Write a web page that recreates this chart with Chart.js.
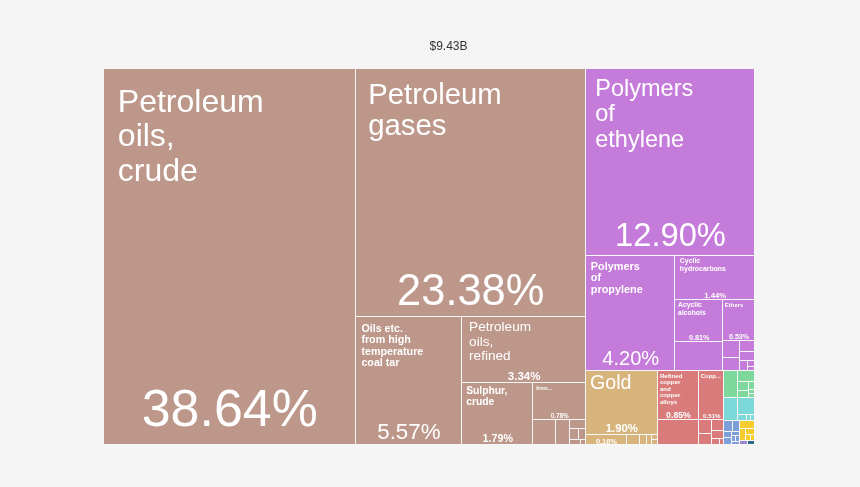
<!DOCTYPE html>
<html>
<head>
<meta charset="utf-8">
<script src="https://cdn.jsdelivr.net/npm/chart.js@4.4.0/dist/chart.umd.min.js"></script>
<style>
  html, body { margin: 0; padding: 0; background: #f5f5f5; }
  #wrap { width: 860px; height: 487px; position: relative; }
</style>
</head>
<body>
<div id="wrap"><canvas id="treeCanvas"></canvas></div>
<script>
const totalLabel = "$9.43B";

// one entry per product group (colour = group)
const groupColors = ["#bc978a", "#c47bd9", "#d8b47d", "#d97b7b", "#7dd89b", "#7cd8d9", "#7d9fda", "#f5cd2f", "#9b87d8", "#2e6b8b"];

const mineralNames = ["Petroleum oils, crude", "Petroleum gases", "Oils etc. from high temperature coal tar", "Petroleum oils, refined", "Sulphur, crude", "Iron ores and concentrates", "Bitumen", "Cement", "Salt", "Limestone", "Gypsum", "Coal", "Clays"];
const mineralValues = [38.64, 23.38, 5.57, 3.34, 1.79, 0.78, 0.23, 0.15, 0.06, 0.04, 0.03, 0.02, 0.01];

const chemNames = ["Polymers of ethylene", "Polymers of propylene", "Cyclic hydrocarbons", "Acyclic alcohols", "Acyclic hydrocarbons", "Ethers", "Fertilizers", "Polyacetals", "Ammonia", "Carboxylic acids", "Plastic pipes", "Paints", "Soap"];
const chemValues = [12.90, 4.20, 1.44, 0.81, 0.56, 0.53, 0.12, 0.09, 0.07, 0.05, 0.03, 0.02, 0.01];

const preciousNames = ["Gold", "Jewellery", "Silver", "Platinum", "Pearls", "Diamonds", "Coin"];
const preciousValues = [1.90, 0.16, 0.05, 0.03, 0.02, 0.01, 0.01];

const metalNames = ["Refined copper and copper alloys", "Copper ores and concentrates", "Raw aluminium", "Iron structures", "Zinc", "Lead", "Copper wire", "Aluminium plates", "Scrap iron"];
const metalValues = [0.85, 0.51, 0.42, 0.07, 0.06, 0.05, 0.04, 0.02, 0.01];

const vegetableNames = ["Dates", "Wheat", "Fruits", "Vegetables", "Rice", "Spices", "Coffee"];
const vegetableValues = [0.15, 0.08, 0.04, 0.03, 0.02, 0.01, 0.01];

const machineNames = ["Generators", "Pumps", "Valves", "Engines", "Computers"];
const machineValues = [0.13, 0.12, 0.02, 0.01, 0.01];

const transportNames = ["Cars", "Trucks", "Vehicle parts", "Ships", "Aircraft", "Trailers", "Buses", "Tractors"];
const transportValues = [0.04, 0.03, 0.02, 0.02, 0.015, 0.01, 0.01, 0.01];

const foodNames = ["Animal feed", "Sugar", "Juices", "Tobacco", "Sauces"];
const foodValues = [0.05, 0.03, 0.02, 0.01, 0.01];

const instrumentNames = ["Medical instruments"];
const instrumentValues = [0.015];

const textileNames = ["Carpets"];
const textileValues = [0.012];

const groupNames = [mineralNames, chemNames, preciousNames, metalNames, vegetableNames, machineNames, transportNames, foodNames, instrumentNames, textileNames];
const groupValues = [mineralValues, chemValues, preciousValues, metalValues, vegetableValues, machineValues, transportValues, foodValues, instrumentValues, textileValues];

const FAMILY = '"Liberation Sans", Arial, Helvetica, sans-serif';

// d3-style squarified layout (ratio 1), nodes sorted by value
function squarify(nodes, x0, y0, x1, y1) {
  let value = nodes.reduce((s, d) => s + d.value, 0);
  let i0 = 0, i1 = 0;
  const n = nodes.length;
  while (i0 < n) {
    const dx = x1 - x0, dy = y1 - y0;
    let sumValue = nodes[i1++].value;
    let minValue = sumValue, maxValue = sumValue;
    const alpha = Math.max(dy / dx, dx / dy) / value;
    let beta = sumValue * sumValue * alpha;
    let minRatio = Math.max(maxValue / beta, beta / minValue);
    for (; i1 < n; ++i1) {
      const v = nodes[i1].value;
      sumValue += v;
      if (v < minValue) minValue = v;
      if (v > maxValue) maxValue = v;
      beta = sumValue * sumValue * alpha;
      const newRatio = Math.max(maxValue / beta, beta / minValue);
      if (newRatio > minRatio) { sumValue -= v; break; }
      minRatio = newRatio;
    }
    const row = nodes.slice(i0, i1);
    if (dx < dy) {
      const yb = i1 < n ? y0 + dy * sumValue / value : y1;
      let x = x0;
      row.forEach(d => {
        const w = (x1 - x0) * d.value / sumValue;
        d.x0 = x; d.x1 = x + w; d.y0 = y0; d.y1 = yb; x += w;
      });
      y0 = yb;
    } else {
      const xb = i1 < n ? x0 + dx * sumValue / value : x1;
      let y = y0;
      row.forEach(d => {
        const h = (y1 - y0) * d.value / sumValue;
        d.x0 = x0; d.x1 = xb; d.y0 = y; d.y1 = y + h; y += h;
      });
      x0 = xb;
    }
    value -= sumValue;
    i0 = i1;
  }
}

function buildLayout(W, H) {
  const groups = groupValues.map((vals, g) => {
    const children = vals.map((v, i) => ({ name: groupNames[g][i], value: v, color: groupColors[g] }))
      .sort((a, b) => b.value - a.value);
    return { value: vals.reduce((s, v) => s + v, 0), children };
  }).sort((a, b) => b.value - a.value);
  squarify(groups, 0, 0, W, H);
  const leaves = [];
  groups.forEach(g => {
    squarify(g.children, g.x0, g.y0, g.x1, g.y1);
    g.children.forEach(c => leaves.push(c));
  });
  return leaves;
}

function setFont(ctx, size, bold) {
  ctx.font = (bold ? "bold " : "") + size + "px " + FAMILY;
}
function measure(ctx, text, size, bold) {
  setFont(ctx, size, bold);
  return ctx.measureText(text).width;
}

const LINE = 1.07;

function layoutName(ctx, name, w, h, room) {
  const words = name.split(" ");
  let bold = false;
  let f = Math.min(0.58 * w / (Math.max(...words.map(t => measure(ctx, t, 100, false))) / 100), 40);
  if (f < 13) {
    bold = true;
    f = 0.58 * w / (Math.max(...words.map(t => measure(ctx, t, 100, true))) / 100);
  }
  if (f < 5.5) {
    f = 6;
    let t = words[0];
    const maxW = w * 0.89;
    while (t.length > 1 && measure(ctx, t + "...", f, true) > maxW) t = t.slice(0, -1);
    return { f, bold: true, lines: [t + "..."] };
  }
  let lines;
  for (let k = 0; k < 20; k++) {
    const limit = Math.max(...words.map(t => measure(ctx, t, f, bold)));
    lines = [];
    let cur = words[0];
    for (let i = 1; i < words.length; i++) {
      const test = cur + " " + words[i];
      if (measure(ctx, test, f, bold) < limit - 0.5) cur = test;
      else { lines.push(cur); cur = words[i]; }
    }
    lines.push(cur);
    if (lines.length * f * LINE <= room || f <= 6) break;
    f *= 0.93;
  }
  return { f, bold, lines };
}

const treemapPlugin = {
  id: "treemapCells",
  afterDraw(chart) {
    const ctx = chart.ctx;
    const xs = chart.scales.x, ys = chart.scales.y;
    const W = xs.getPixelForValue(100) - xs.getPixelForValue(0);
    const H = ys.getPixelForValue(100) - ys.getPixelForValue(0);
    const leaves = buildLayout(W, H);
    ctx.save();
    // gaps between cells
    ctx.fillStyle = "#f7f7f7";
    ctx.fillRect(xs.getPixelForValue(0), ys.getPixelForValue(0), W, H);
    leaves.forEach(d => {
      const px0 = Math.round(xs.getPixelForValue(d.x0 / W * 100));
      const px1 = Math.round(xs.getPixelForValue(d.x1 / W * 100));
      const py0 = Math.round(ys.getPixelForValue(d.y0 / H * 100));
      const py1 = Math.round(ys.getPixelForValue(d.y1 / H * 100));
      ctx.fillStyle = d.color;
      ctx.fillRect(px0, py0, Math.max(px1 - px0 - 1, 0), Math.max(py1 - py0 - 1, 0));
    });
    // labels
    ctx.fillStyle = "#ffffff";
    leaves.forEach(d => {
      const x0 = xs.getPixelForValue(d.x0 / W * 100);
      const x1 = xs.getPixelForValue(d.x1 / W * 100);
      const y0 = ys.getPixelForValue(d.y0 / H * 100);
      const y1 = ys.getPixelForValue(d.y1 / H * 100);
      const w = x1 - x0, h = y1 - y0;
      const pctText = d.value.toFixed(2) + "%";
      let pBold = false;
      let pf = Math.min(0.175 * h, 0.7 * w / (measure(ctx, pctText, 100, false) / 100));
      if (pf < 13) {
        pBold = true;
        pf = Math.min(0.175 * h, 0.7 * w / (measure(ctx, pctText, 100, true) / 100));
      }
      const gap = Math.max(0.05 * h, 2);
      if (w >= 20 && h >= 35) {
        const padX = 0.055 * w, padY = 0.05 * h;
        const room = h - padY - gap - pf * 1.3;
        const lab = layoutName(ctx, d.name, w, h, room);
        setFont(ctx, lab.f, lab.bold);
        ctx.textAlign = "left";
        ctx.textBaseline = "alphabetic";
        lab.lines.forEach((line, i) => {
          ctx.fillText(line, x0 + padX, y0 + padY + 0.76 * lab.f + i * lab.f * LINE);
        });
        if (pf >= 5) {
          setFont(ctx, pf, pBold);
          ctx.textAlign = "center";
          ctx.fillText(pctText, (x0 + x1) / 2, y1 - gap);
        }
      } else if (h < 12 && w >= 40) {
        pf = Math.min(h * 0.78, 0.7 * w / (measure(ctx, pctText, 100, true) / 100));
        setFont(ctx, pf, true);
        ctx.textAlign = "center";
        ctx.textBaseline = "alphabetic";
        ctx.fillText(pctText, (x0 + x1) / 2, y1 - 1.5);
      }
    });
    // total value above the map
    ctx.fillStyle = "#333333";
    setFont(ctx, 12, false);
    ctx.textAlign = "center";
    ctx.textBaseline = "alphabetic";
    ctx.fillText(totalLabel, (chart.chartArea.left + chart.chartArea.right) / 2 + 19, chart.chartArea.top - 19);
    ctx.restore();
  }
};

const treeChart = new Chart(document.getElementById("treeCanvas"), {
  type: "scatter",
  data: { datasets: [] },
  options: {
    responsive: true,
    maintainAspectRatio: false,
    animation: false,
    layout: { padding: { left: 104, right: 105, top: 69, bottom: 42 } },
    scales: {
      x: { type: "linear", min: 0, max: 100, display: false },
      y: { type: "linear", min: 0, max: 100, reverse: true, display: false }
    },
    plugins: {
      legend: { display: false },
      tooltip: { enabled: false },
      title: { display: false }
    }
  },
  plugins: [treemapPlugin]
});
</script>
</body>
</html>
